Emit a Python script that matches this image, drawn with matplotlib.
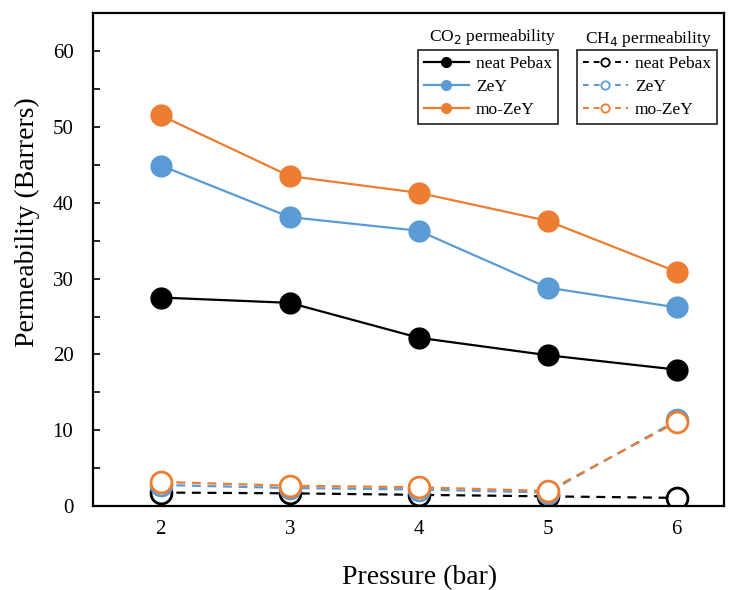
import matplotlib.pyplot as plt
from matplotlib.ticker import MultipleLocator
from matplotlib.lines import Line2D

plt.rcParams['font.family'] = ['Liberation Serif', 'DejaVu Serif']

pressure = [2, 3, 4, 5, 6]

# CO2 permeability (Barrers)
co2_neat = [27.5, 26.8, 22.2, 19.9, 18.0]
co2_zey = [44.9, 38.1, 36.3, 28.8, 26.2]
co2_mozey = [51.5, 43.5, 41.3, 37.6, 30.9]

# CH4 permeability (Barrers)
ch4_neat = [1.8, 1.7, 1.5, 1.3, 1.1]
ch4_zey = [2.8, 2.4, 2.2, 1.8, 11.3]
ch4_mozey = [3.2, 2.7, 2.5, 2.0, 11.1]

names = ['neat Pebax', 'ZeY', 'mo-ZeY']
colors = ['black', '#5b9bd5', '#ed7d31']

fig = plt.figure(figsize=(7.31, 5.9), dpi=100)
ax = fig.add_axes([0.127, 0.142, 0.863, 0.836])

co2 = [co2_neat, co2_zey, co2_mozey]
ch4 = [ch4_neat, ch4_zey, ch4_mozey]

for vals, c in zip(co2, colors):
    ax.plot(pressure, vals, '-o', color=c, lw=1.6, ms=15, zorder=3)
for vals, c in zip(ch4, colors):
    ax.plot(pressure, vals, '--o', color=c, lw=1.6, ms=15, mfc='white',
            mew=2, dashes=(4, 3), zorder=2)

ax.set_xlim(1.473, 6.364)
ax.set_ylim(0, 65)
ax.set_xticks(pressure)
ax.yaxis.set_major_locator(MultipleLocator(10))
ax.yaxis.set_minor_locator(MultipleLocator(5))
ax.set_yticks(range(0, 61, 10))
ax.tick_params(axis='y', which='both', direction='in', length=5, width=1.2,
               labelsize=15, pad=14)
ax.tick_params(axis='x', direction='in', length=0, labelsize=15, pad=10)
for s in ax.spines.values():
    s.set_linewidth(1.6)

ax.set_xlabel('Pressure (bar)', fontsize=20)
ax.set_ylabel('Permeability (Barrers)', fontsize=20)
ax.xaxis.set_label_coords(0.518, -0.12)
ax.yaxis.set_label_coords(-0.084, 0.576)

# legend handles: small markers, solid for CO2 and open/dashed for CH4
h1 = [Line2D([], [], color=c, lw=1.6, marker='o', ms=7) for c in colors]
h2 = [Line2D([], [], color=c, lw=1.4, ls='--', marker='o', ms=6, mfc='white',
             mew=1.3, dashes=(3, 2.5)) for c in colors]

leg_kw = dict(loc='upper left', frameon=True, fancybox=False, fontsize=12.5,
              handlelength=2.6, borderpad=0.35, labelspacing=0.4,
              borderaxespad=0, handletextpad=0.4)
leg1 = ax.legend(h1, names, bbox_to_anchor=(0.515, 0.925), **leg_kw)
leg1.get_frame().set_edgecolor('black')
leg1.get_frame().set_linewidth(1.3)
ax.add_artist(leg1)
leg2 = ax.legend(h2, names, bbox_to_anchor=(0.767, 0.925), **leg_kw)
leg2.get_frame().set_edgecolor('black')
leg2.get_frame().set_linewidth(1.3)

ax.text(0.634, 0.951, 'CO$_2$ permeability', transform=ax.transAxes,
        ha='center', va='center', fontsize=12.5)
ax.text(0.88, 0.947, 'CH$_4$ permeability', transform=ax.transAxes,
        ha='center', va='center', fontsize=12.5)

fig.savefig('out.png', dpi=100)
